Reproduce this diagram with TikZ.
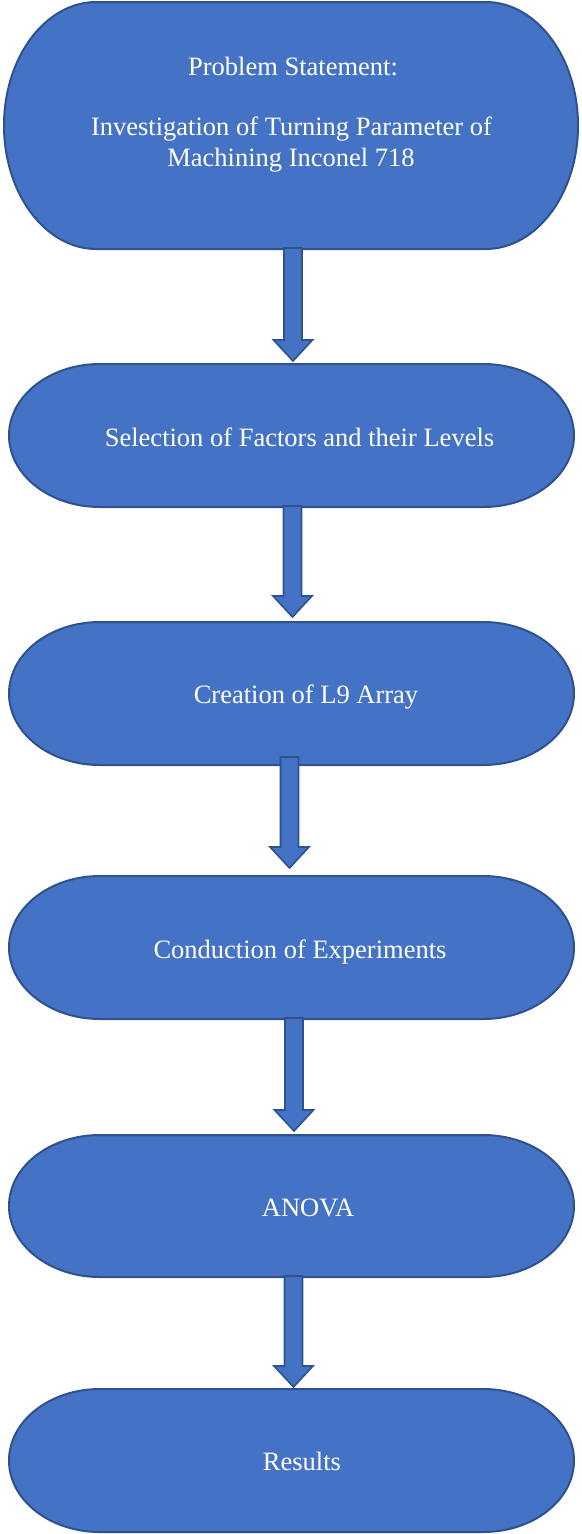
\documentclass[tikz,border=0pt]{standalone}
\usepackage{fontspec}
\setmainfont{Liberation Serif}
\usetikzlibrary{calc}
\definecolor{boxfill}{HTML}{4472C4}
\definecolor{boxline}{HTML}{2F528F}
\tikzset{
  termshape/.style={fill=boxfill, draw=boxline, line width=2pt},
  boxanchor/.style={inner sep=0pt, outer sep=0pt, draw=none},
  lbl/.style={text=white, font=\fontsize{26.5}{31}\selectfont, anchor=base, inner sep=0pt},
  bigarrow/.style={fill=boxfill, draw=boxline, line width=1.6pt, line join=miter}
}
% name, x1, y1, x2, y2 (pixels, y downward)
\newcommand{\termbox}[5]{%
  \pgfmathsetmacro\trx{0.161*(#4-#2)}%
  \pgfmathsetmacro\try{(#5-#3)/2}%
  \path[termshape] (#2pt+\trx pt,-#3pt) -- (#4pt-\trx pt,-#3pt)
     arc[start angle=90, end angle=-90, x radius=\trx pt, y radius=\try pt]
     -- (#2pt+\trx pt,-#5pt)
     arc[start angle=270, end angle=90, x radius=\trx pt, y radius=\try pt]
     -- cycle;
  \pgfmathsetmacro\tcx{(#2+#4)/2}%
  \pgfmathsetmacro\tcy{(#3+#5)/2}%
  \pgfmathsetmacro\tw{#4-#2}%
  \pgfmathsetmacro\th{#5-#3}%
  \node[boxanchor, minimum width=\tw pt, minimum height=\th pt] (#1) at (\tcx pt,-\tcy pt) {};
}
% from, to, dx, top overlap, tip gap
\newcommand{\flowarrow}[5]{%
  \draw[bigarrow] let \p1=(#1.south), \p2=(#2.north) in
    (\x1+#3-9pt,\y1+#4) -- (\x1+#3+9pt,\y1+#4) -- (\x1+#3+9pt,\y2+#5+21pt)
    -- (\x1+#3+19.5pt,\y2+#5+21pt) -- (\x1+#3,\y2+#5)
    -- (\x1+#3-19.5pt,\y2+#5+21pt) -- (\x1+#3-9pt,\y2+#5+21pt) -- cycle;
}
\begin{document}
\begin{tikzpicture}
\useasboundingbox (0,0) rectangle (581pt,-1534pt);
\termbox{b1}{4}{2}{578}{249}
\termbox{b2}{9}{364}{574}{507}
\termbox{b3}{9}{622}{574}{765}
\termbox{b4}{9}{876}{574}{1019}
\termbox{b5}{9}{1135}{574}{1277}
\termbox{b6}{9}{1389}{574}{1532}

\node[lbl] (t1a) at (293pt,-75pt) {Problem Statement:};
\node[lbl] (t1b) at (291.5pt,-135pt) {Investigation of Turning Parameter of};
\node[lbl] (t1c) at (291pt,-166pt) {Machining Inconel 718};
\node[lbl] (t2) at (299.5pt,-446pt) {Selection of Factors and their Levels};
\node[lbl] (t3) at (306pt,-703pt) {Creation of L9 Array};
\node[lbl] (t4) at (300pt,-958pt) {Conduction of Experiments};
\node[lbl] (t5) at (308pt,-1216pt) {ANOVA};
\node[lbl] (t6) at (302pt,-1470pt) {Results};

\flowarrow{b1}{b2}{2pt}{1pt}{3pt}
\flowarrow{b2}{b3}{1pt}{1pt}{5pt}
\flowarrow{b3}{b4}{-2pt}{8pt}{8pt}
\flowarrow{b4}{b5}{2.5pt}{1pt}{4pt}
\flowarrow{b5}{b6}{2pt}{1pt}{2pt}
\end{tikzpicture}
\end{document}
